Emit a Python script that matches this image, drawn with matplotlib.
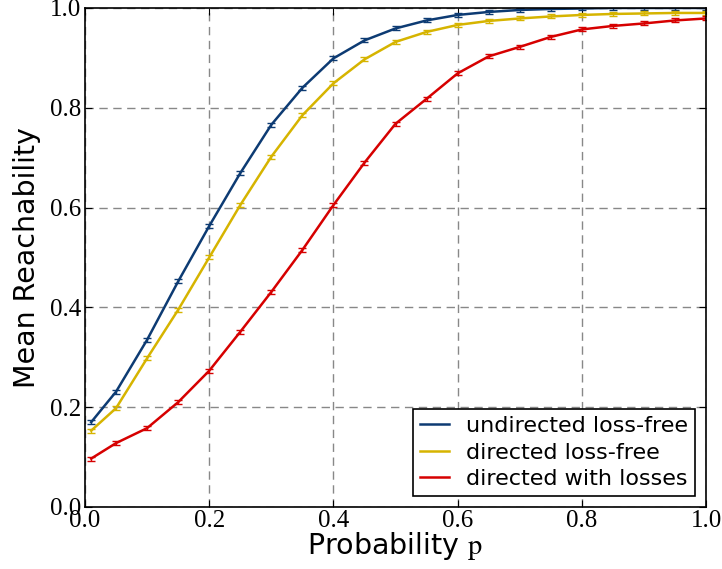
import matplotlib
matplotlib.use('Agg')
import matplotlib.pyplot as plt

# values
p = [0.01, 0.05, 0.10, 0.15, 0.20, 0.25, 0.30, 0.35, 0.40, 0.45, 0.50,
     0.55, 0.60, 0.65, 0.70, 0.75, 0.80, 0.85, 0.90, 0.95, 1.00]
undirected = [0.170, 0.231, 0.335, 0.452, 0.563, 0.669, 0.766, 0.840, 0.899, 0.935, 0.959,
              0.975, 0.986, 0.992, 0.996, 0.998, 0.999, 1.000, 1.000, 1.000, 1.000]
directed = [0.153, 0.198, 0.298, 0.395, 0.500, 0.605, 0.702, 0.785, 0.849, 0.897, 0.932,
            0.952, 0.966, 0.974, 0.979, 0.983, 0.986, 0.988, 0.989, 0.990, 0.990]
lossy = [0.097, 0.128, 0.158, 0.210, 0.273, 0.351, 0.431, 0.515, 0.605, 0.690, 0.768,
         0.818, 0.869, 0.903, 0.922, 0.942, 0.957, 0.964, 0.969, 0.975, 0.979]
err = [0.004] * len(p)

labels = ['undirected loss-free', 'directed loss-free', 'directed with losses']
colors = ['#0d3b73', '#d6b400', '#d60000']

plt.rcParams['mathtext.fontset'] = 'stix'

fig = plt.figure(figsize=(7.22, 5.69), dpi=100)
ax = fig.add_axes([0.1177, 0.109, 0.8603, 0.877])

for ys, lab, c in zip([undirected, directed, lossy], labels, colors):
    ax.errorbar(p, ys, yerr=err, color=c, lw=1.8, capsize=3, elinewidth=1)
    ax.plot([], [], color=c, lw=1.8, label=lab)

ax.set_xlim(0, 1)
ax.set_ylim(0, 1)
ax.set_xticks([0.0, 0.2, 0.4, 0.6, 0.8, 1.0])
ax.set_yticks([0.0, 0.2, 0.4, 0.6, 0.8, 1.0])
ax.grid(True, color='#888888', linestyle=(0, (6, 4)), lw=1)
ax.tick_params(direction='in', top=True, right=True, length=5)
for t in ax.get_xticklabels() + ax.get_yticklabels():
    t.set_family('Liberation Serif')
    t.set_fontsize(18)
ax.tick_params(axis='x', pad=2)
ax.tick_params(axis='y', pad=3)
for s in ax.spines.values():
    s.set_linewidth(1.2)

ax.set_xlabel(r'Probability $\mathrm{p}$', fontsize=20.5, labelpad=-1)
ax.set_ylabel('Mean Reachability', fontsize=20.5, labelpad=6)

leg = ax.legend(loc='lower right', fontsize=16, fancybox=False, framealpha=1,
                edgecolor='black', handlelength=1.3, borderaxespad=0.5,
                labelspacing=0.3, borderpad=0.3)
leg.get_frame().set_linewidth(1.2)

fig.savefig('out.png', dpi=100)
